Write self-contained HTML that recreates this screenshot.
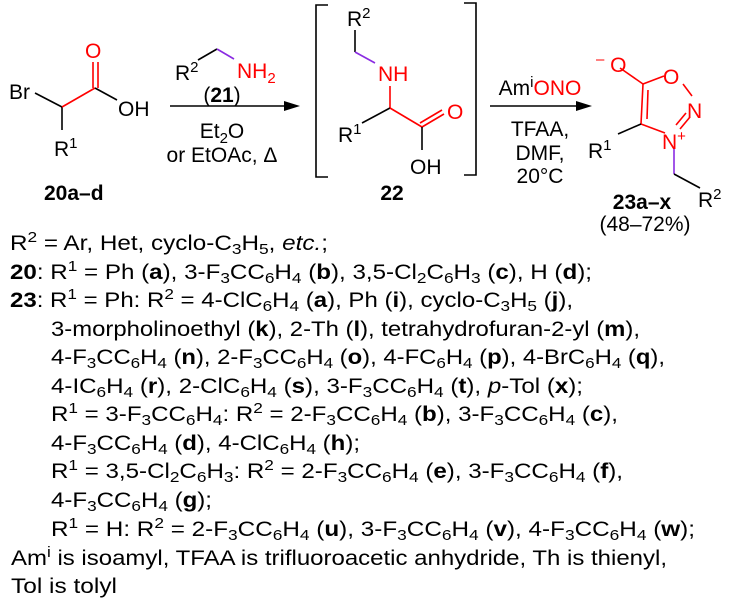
<!DOCTYPE html>
<html><head><meta charset="utf-8"><style>
body{margin:0;background:#fff;width:733px;height:609px;overflow:hidden}
svg{display:block}
text{font-family:"Liberation Sans",sans-serif;font-size:21px;fill:#000}
.r{fill:#f00}
.s{font-size:15px}
</style></head><body>
<svg width="733" height="609" viewBox="0 0 733 609">
<g stroke-width="1.6" fill="none">
<line x1="35" y1="93" x2="62" y2="107" stroke="#000"/>
<line x1="62" y1="107" x2="62" y2="130" stroke="#000"/>
<line x1="62" y1="107" x2="95" y2="88" stroke="#f00"/>
<line x1="93" y1="88" x2="93" y2="62" stroke="#f00"/>
<line x1="98" y1="88" x2="98" y2="62" stroke="#f00"/>
<line x1="95" y1="88" x2="117" y2="100" stroke="#000"/>
<line x1="170" y1="106" x2="290" y2="106" stroke="#000"/>
<line x1="198" y1="60" x2="217" y2="49" stroke="#000"/>
<line x1="217" y1="49" x2="234" y2="59" stroke="#8a2be2"/>
<polyline points="328,5 316,5 316,177 328,177" stroke="#000"/>
<polyline points="464,3 476,3 476,175 464,175" stroke="#000"/>
<line x1="355" y1="30" x2="355" y2="52" stroke="#000"/>
<line x1="355" y1="52" x2="375" y2="63" stroke="#8a2be2"/>
<line x1="390" y1="86" x2="390" y2="108" stroke="#f00"/>
<line x1="362" y1="123" x2="390" y2="108" stroke="#000"/>
<line x1="390" y1="108" x2="422" y2="127" stroke="#f00"/>
<line x1="422" y1="127" x2="444" y2="114" stroke="#f00"/>
<line x1="420" y1="123" x2="442" y2="110" stroke="#f00"/>
<line x1="422" y1="127" x2="422" y2="150" stroke="#000"/>
<line x1="490" y1="106" x2="582" y2="106" stroke="#000"/>
<line x1="620" y1="68" x2="643" y2="84" stroke="#f00"/>
<line x1="643" y1="84" x2="664" y2="76" stroke="#f00"/>
<line x1="683" y1="84" x2="692" y2="96" stroke="#f00"/>
<line x1="690" y1="117" x2="680" y2="129" stroke="#f00"/>
<line x1="686" y1="113" x2="676" y2="125" stroke="#f00"/>
<line x1="665" y1="133" x2="641" y2="124" stroke="#f00"/>
<line x1="641" y1="124" x2="643" y2="84" stroke="#f00"/>
<line x1="647" y1="119" x2="648" y2="90" stroke="#f00"/>
<line x1="618" y1="134" x2="641" y2="124" stroke="#000"/>
<line x1="674" y1="148" x2="674" y2="174" stroke="#8a2be2"/>
<line x1="674" y1="174" x2="700" y2="188" stroke="#000"/>
</g>
<polygon points="300,106 284,101 284,111" fill="#000"/>
<polygon points="592,106 576,101 576,111" fill="#000"/>

<text x="9" y="99">Br</text>
<text x="85" y="58" class="r">O</text>
<text x="118" y="116">OH</text>
<text x="54" y="156">R<tspan class="s" dy="-8">1</tspan></text>
<text x="44" y="200" font-weight="bold">20a–d</text>

<text x="175" y="80">R<tspan class="s" dy="-8">2</tspan></text>
<text x="237" y="78" class="r">NH<tspan class="s" dy="5">2</tspan></text>
<text x="222" y="102" text-anchor="middle">(<tspan font-weight="bold">21</tspan>)</text>
<text x="222" y="138" text-anchor="middle">Et<tspan class="s" dy="5">2</tspan><tspan dy="-5">O</tspan></text>
<text x="222" y="162" text-anchor="middle">or EtOAc, Δ</text>

<text x="347" y="26">R<tspan class="s" dy="-8">2</tspan></text>
<text x="378" y="81" class="r">NH</text>
<text x="338" y="142">R<tspan class="s" dy="-8">1</tspan></text>
<text x="447" y="119" class="r">O</text>
<text x="410" y="174">OH</text>
<text x="392" y="200" font-weight="bold" text-anchor="middle">22</text>

<text x="540" y="95" text-anchor="middle">Am<tspan class="s" dy="-8">i</tspan><tspan dy="8" class="r">ONO</tspan></text>
<text x="540" y="136" text-anchor="middle">TFAA,</text>
<text x="540" y="160" text-anchor="middle">DMF,</text>
<text x="540" y="183" text-anchor="middle">20°C</text>

<text x="596" y="72" class="r"><tspan class="s" dy="-8">–</tspan><tspan dy="8"> O</tspan></text>
<text x="663" y="84" class="r">O</text>
<text x="687" y="118" class="r">N</text>
<text x="662" y="149" class="r">N<tspan class="s" dy="-8">+</tspan></text>
<text x="588" y="158">R<tspan class="s" dy="-8">1</tspan></text>
<text x="698" y="207">R<tspan class="s" dy="-8">2</tspan></text>
<text x="642" y="209" font-weight="bold" text-anchor="middle">23a–x</text>
<text x="645" y="231" text-anchor="middle">(48–72%)</text>

<g>
<text x="10" y="250" textLength="318" lengthAdjust="spacingAndGlyphs">R<tspan class="s" dy="-8">2</tspan><tspan dy="8"> = Ar, Het, cyclo-C</tspan><tspan class="s" dy="4">3</tspan><tspan dy="-4">H</tspan><tspan class="s" dy="4">5</tspan><tspan dy="-4">, </tspan><tspan font-style="italic">etc.</tspan>;</text>
<text x="10" y="279" textLength="582" lengthAdjust="spacingAndGlyphs"><tspan font-weight="bold">20</tspan>: R<tspan class="s" dy="-8">1</tspan><tspan dy="8"> = Ph (</tspan><tspan font-weight="bold">a</tspan>), 3-F<tspan class="s" dy="4">3</tspan><tspan dy="-4">CC</tspan><tspan class="s" dy="4">6</tspan><tspan dy="-4">H</tspan><tspan class="s" dy="4">4</tspan><tspan dy="-4"> (</tspan><tspan font-weight="bold">b</tspan>), 3,5-Cl<tspan class="s" dy="4">2</tspan><tspan dy="-4">C</tspan><tspan class="s" dy="4">6</tspan><tspan dy="-4">H</tspan><tspan class="s" dy="4">3</tspan><tspan dy="-4"> (</tspan><tspan font-weight="bold">c</tspan>), H (<tspan font-weight="bold">d</tspan>);</text>
<text x="10" y="307" textLength="563" lengthAdjust="spacingAndGlyphs"><tspan font-weight="bold">23</tspan>: R<tspan class="s" dy="-8">1</tspan><tspan dy="8"> = Ph: R</tspan><tspan class="s" dy="-8">2</tspan><tspan dy="8"> = 4-ClC</tspan><tspan class="s" dy="4">6</tspan><tspan dy="-4">H</tspan><tspan class="s" dy="4">4</tspan><tspan dy="-4"> (</tspan><tspan font-weight="bold">a</tspan>), Ph (<tspan font-weight="bold">i</tspan>), cyclo-C<tspan class="s" dy="4">3</tspan><tspan dy="-4">H</tspan><tspan class="s" dy="4">5</tspan><tspan dy="-4"> (</tspan><tspan font-weight="bold">j</tspan>),</text>
<text x="51" y="336" textLength="589" lengthAdjust="spacingAndGlyphs">3-morpholinoethyl (<tspan font-weight="bold">k</tspan>), 2-Th (<tspan font-weight="bold">l</tspan>), tetrahydrofuran-2-yl (<tspan font-weight="bold">m</tspan>),</text>
<text x="51" y="364" textLength="614" lengthAdjust="spacingAndGlyphs">4-F<tspan class="s" dy="4">3</tspan><tspan dy="-4">CC</tspan><tspan class="s" dy="4">6</tspan><tspan dy="-4">H</tspan><tspan class="s" dy="4">4</tspan><tspan dy="-4"> (</tspan><tspan font-weight="bold">n</tspan>), 2-F<tspan class="s" dy="4">3</tspan><tspan dy="-4">CC</tspan><tspan class="s" dy="4">6</tspan><tspan dy="-4">H</tspan><tspan class="s" dy="4">4</tspan><tspan dy="-4"> (</tspan><tspan font-weight="bold">o</tspan>), 4-FC<tspan class="s" dy="4">6</tspan><tspan dy="-4">H</tspan><tspan class="s" dy="4">4</tspan><tspan dy="-4"> (</tspan><tspan font-weight="bold">p</tspan>), 4-BrC<tspan class="s" dy="4">6</tspan><tspan dy="-4">H</tspan><tspan class="s" dy="4">4</tspan><tspan dy="-4"> (</tspan><tspan font-weight="bold">q</tspan>),</text>
<text x="51" y="393" textLength="532" lengthAdjust="spacingAndGlyphs">4-IC<tspan class="s" dy="4">6</tspan><tspan dy="-4">H</tspan><tspan class="s" dy="4">4</tspan><tspan dy="-4"> (</tspan><tspan font-weight="bold">r</tspan>), 2-ClC<tspan class="s" dy="4">6</tspan><tspan dy="-4">H</tspan><tspan class="s" dy="4">4</tspan><tspan dy="-4"> (</tspan><tspan font-weight="bold">s</tspan>), 3-F<tspan class="s" dy="4">3</tspan><tspan dy="-4">CC</tspan><tspan class="s" dy="4">6</tspan><tspan dy="-4">H</tspan><tspan class="s" dy="4">4</tspan><tspan dy="-4"> (</tspan><tspan font-weight="bold">t</tspan>), <tspan font-style="italic">p</tspan>-Tol (<tspan font-weight="bold">x</tspan>);</text>
<text x="51" y="421" textLength="567" lengthAdjust="spacingAndGlyphs">R<tspan class="s" dy="-8">1</tspan><tspan dy="8"> = 3-F</tspan><tspan class="s" dy="4">3</tspan><tspan dy="-4">CC</tspan><tspan class="s" dy="4">6</tspan><tspan dy="-4">H</tspan><tspan class="s" dy="4">4</tspan><tspan dy="-4">: R</tspan><tspan class="s" dy="-8">2</tspan><tspan dy="8"> = 2-F</tspan><tspan class="s" dy="4">3</tspan><tspan dy="-4">CC</tspan><tspan class="s" dy="4">6</tspan><tspan dy="-4">H</tspan><tspan class="s" dy="4">4</tspan><tspan dy="-4"> (</tspan><tspan font-weight="bold">b</tspan>), 3-F<tspan class="s" dy="4">3</tspan><tspan dy="-4">CC</tspan><tspan class="s" dy="4">6</tspan><tspan dy="-4">H</tspan><tspan class="s" dy="4">4</tspan><tspan dy="-4"> (</tspan><tspan font-weight="bold">c</tspan>),</text>
<text x="51" y="450" textLength="309" lengthAdjust="spacingAndGlyphs">4-F<tspan class="s" dy="4">3</tspan><tspan dy="-4">CC</tspan><tspan class="s" dy="4">6</tspan><tspan dy="-4">H</tspan><tspan class="s" dy="4">4</tspan><tspan dy="-4"> (</tspan><tspan font-weight="bold">d</tspan>), 4-ClC<tspan class="s" dy="4">6</tspan><tspan dy="-4">H</tspan><tspan class="s" dy="4">4</tspan><tspan dy="-4"> (</tspan><tspan font-weight="bold">h</tspan>);</text>
<text x="51" y="478" textLength="572" lengthAdjust="spacingAndGlyphs">R<tspan class="s" dy="-8">1</tspan><tspan dy="8"> = 3,5-Cl</tspan><tspan class="s" dy="4">2</tspan><tspan dy="-4">C</tspan><tspan class="s" dy="4">6</tspan><tspan dy="-4">H</tspan><tspan class="s" dy="4">3</tspan><tspan dy="-4">: R</tspan><tspan class="s" dy="-8">2</tspan><tspan dy="8"> = 2-F</tspan><tspan class="s" dy="4">3</tspan><tspan dy="-4">CC</tspan><tspan class="s" dy="4">6</tspan><tspan dy="-4">H</tspan><tspan class="s" dy="4">4</tspan><tspan dy="-4"> (</tspan><tspan font-weight="bold">e</tspan>), 3-F<tspan class="s" dy="4">3</tspan><tspan dy="-4">CC</tspan><tspan class="s" dy="4">6</tspan><tspan dy="-4">H</tspan><tspan class="s" dy="4">4</tspan><tspan dy="-4"> (</tspan><tspan font-weight="bold">f</tspan>),</text>
<text x="51" y="507" textLength="161" lengthAdjust="spacingAndGlyphs">4-F<tspan class="s" dy="4">3</tspan><tspan dy="-4">CC</tspan><tspan class="s" dy="4">6</tspan><tspan dy="-4">H</tspan><tspan class="s" dy="4">4</tspan><tspan dy="-4"> (</tspan><tspan font-weight="bold">g</tspan>);</text>
<text x="51" y="536" textLength="644" lengthAdjust="spacingAndGlyphs">R<tspan class="s" dy="-8">1</tspan><tspan dy="8"> = H: R</tspan><tspan class="s" dy="-8">2</tspan><tspan dy="8"> = 2-F</tspan><tspan class="s" dy="4">3</tspan><tspan dy="-4">CC</tspan><tspan class="s" dy="4">6</tspan><tspan dy="-4">H</tspan><tspan class="s" dy="4">4</tspan><tspan dy="-4"> (</tspan><tspan font-weight="bold">u</tspan>), 3-F<tspan class="s" dy="4">3</tspan><tspan dy="-4">CC</tspan><tspan class="s" dy="4">6</tspan><tspan dy="-4">H</tspan><tspan class="s" dy="4">4</tspan><tspan dy="-4"> (</tspan><tspan font-weight="bold">v</tspan>), 4-F<tspan class="s" dy="4">3</tspan><tspan dy="-4">CC</tspan><tspan class="s" dy="4">6</tspan><tspan dy="-4">H</tspan><tspan class="s" dy="4">4</tspan><tspan dy="-4"> (</tspan><tspan font-weight="bold">w</tspan>);</text>
<text x="11" y="565" textLength="656" lengthAdjust="spacingAndGlyphs">Am<tspan class="s" dy="-8">i</tspan><tspan dy="8"> is isoamyl, TFAA is trifluoroacetic anhydride, Th is thienyl,</tspan></text>
<text x="11" y="593" textLength="106" lengthAdjust="spacingAndGlyphs">Tol is tolyl</text>
</g>
</svg>
</body></html>
